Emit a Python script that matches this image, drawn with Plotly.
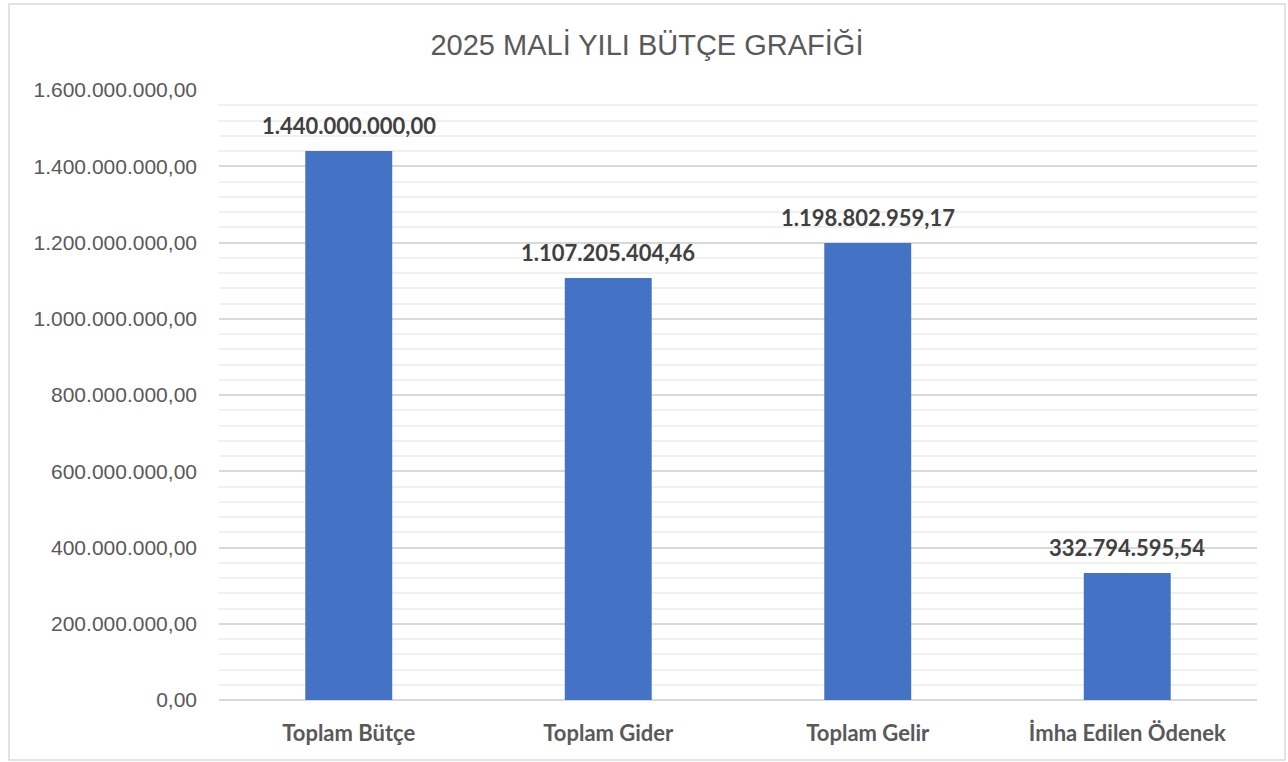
import plotly.graph_objects as go

categories = ["Toplam Bütçe", "Toplam Gider", "Toplam Gelir", "İmha Edilen Ödenek"]
values = [1440000000.00, 1107205404.46, 1198802959.17, 332794595.54]
label_texts = ["1.440.000.000,00", "1.107.205.404,46", "1.198.802.959,17", "332.794.595,54"]
title_text = "2025 MALİ YILI BÜTÇE GRAFİĞİ"

fig = go.Figure()
fig.add_trace(go.Bar(
    x=categories, y=values,
    marker=dict(color="#4472c4", line=dict(width=0)),
    width=0.335,
    hoverinfo="x+y",
))

for c, v, t in zip(categories, values, label_texts):
    fig.add_annotation(x=c, y=v, text="<b>" + t + "</b>", showarrow=False,
                       yanchor="bottom", yshift=10,
                       font=dict(family="Lato, Open Sans, sans-serif", size=22, color="#404040"))

W, H = 1288, 762
l, r, t, b = 219, 31, 90, 62
pw, ph = W - l - r, H - t - b

def px_x(x):
    return (x - l) / pw

def px_y(y):
    return (H - b - y) / ph

fig.add_shape(type="rect", xref="paper", yref="paper",
              x0=px_x(9), x1=px_x(1285), y0=px_y(760), y1=px_y(4),
              line=dict(color="#d9d9d9", width=1.5), fillcolor="rgba(0,0,0,0)", layer="below")

fig.update_layout(
    width=W, height=H,
    margin=dict(l=l, r=r, t=t, b=b),
    paper_bgcolor="white", plot_bgcolor="white",
    separators=",.",
    showlegend=False,
    bargap=0.665,
    title=dict(text=title_text, x=647 / W, xanchor="center", y=1 - 45 / H, yanchor="middle",
               font=dict(family="Liberation Sans, Arial, sans-serif", size=29, color="#595959")),
    xaxis=dict(
        showgrid=False, showline=False, zeroline=False,
        tickfont=dict(family="Lato, Open Sans, sans-serif", size=22, color="#595959", weight="bold"),
        ticklabelstandoff=18,
    ),
    yaxis=dict(
        range=[0, 1.6e9], dtick=2e8, tick0=0,
        tickformat=",.2f",
        showgrid=True, gridcolor="#d9d9d9", gridwidth=1.5,
        minor=dict(dtick=4e7, showgrid=True, gridcolor="#f0f0f0", gridwidth=1.5),
        zeroline=True, zerolinecolor="#d9d9d9", zerolinewidth=1.5,
        showline=False,
        tickfont=dict(family="Liberation Sans, Arial, sans-serif", size=21, color="#595959"),
        ticklabelstandoff=21,
    ),
)

fig.write_html("out.html", config={"displayModeBar": False},
               post_script="document.body.style.margin='0';document.body.style.overflow='hidden';")
